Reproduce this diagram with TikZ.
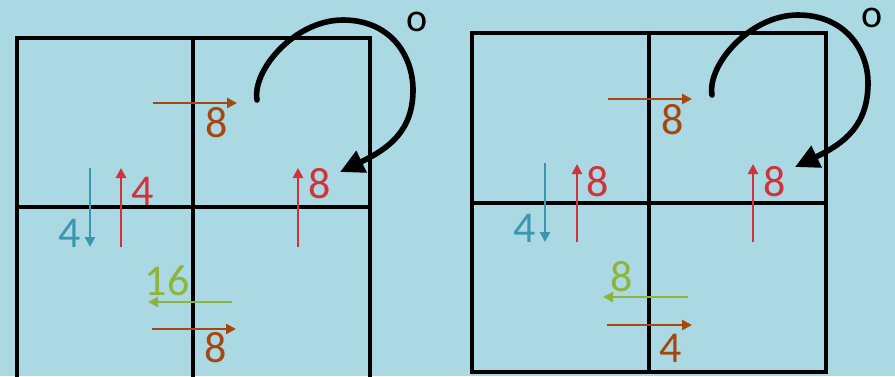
\documentclass[tikz,border=0pt]{standalone}
\usepackage{fontspec}
\setmainfont{Carlito}
\usetikzlibrary{arrows.meta}
\definecolor{bg}{RGB}{170,216,227}
\definecolor{cbrown}{RGB}{165,72,15}
\definecolor{cred}{RGB}{208,52,58}
\definecolor{cblue}{RGB}{58,152,174}
\definecolor{cgreen}{RGB}{141,181,60}
\tikzset{
  gridline/.style={line width=3.4pt,line cap=rect},
  flow/.style={line width=2.8pt,-{Triangle[length=10pt,width=10pt]}},
  lbl/.style={inner sep=0pt,font=\fontsize{44}{44}\selectfont},
  curvearrow/.style={line width=5.6pt,line cap=round,-{Triangle[length=24pt,width=23pt]}},
}
\begin{document}
\begin{tikzpicture}[x=1pt,y=-1pt]
\fill[bg] (0,0) rectangle (895,376);
\useasboundingbox (0,0) rectangle (895,376);
\clip (0,0) rectangle (895,376);
% ---------- left grid ----------
\draw[gridline] (17,382) -- (17,38) -- (370,38) -- (370,382);
\draw[gridline] (193,38) -- (193,382);
\draw[gridline] (17,207) -- (370,207);
% arrows
\coordinate (a1s) at (153,103); \coordinate (a1e) at (237,103);
\draw[flow,cbrown] (a1s) -- (a1e);
\node[lbl,cbrown] (l1) at (217,123) {8};
\coordinate (a2s) at (90,168); \coordinate (a2e) at (90,247);
\draw[flow,cblue] (a2s) -- (a2e);
\node[lbl,cblue] (l2) at (70,233) {4};
\coordinate (a3s) at (121,247); \coordinate (a3e) at (121,168);
\draw[flow,cred] (a3s) -- (a3e);
\node[lbl,cred] (l3) at (143,191) {4};
\coordinate (a4s) at (298,247); \coordinate (a4e) at (298,168);
\draw[flow,cred] (a4s) -- (a4e);
\node[lbl,cred] (l4) at (320,184) {8};
\coordinate (a5s) at (232,302); \coordinate (a5e) at (148,302);
\draw[flow,cgreen] (a5s) -- (a5e);
\node[lbl,cgreen] (l5) at (167,281) {16};
\coordinate (a6s) at (152,329); \coordinate (a6e) at (236,329);
\draw[flow,cbrown] (a6s) -- (a6e);
\node[lbl,cbrown] (l6) at (216,348) {8};
% curved
\coordinate (c1s) at (257,100); \coordinate (c1e) at (340,172);
\draw[curvearrow] (c1s) .. controls (252,70) and (295,20) .. (343,20)
   .. controls (390,20) and (413,55) .. (413,90)
   .. controls (413,130) and (390,148) .. (c1e);
\node[lbl,font=\fontsize{40}{40}\selectfont] (o1) at (417,22) {o};
% ---------- right grid ----------
\draw[gridline] (472,33) rectangle (826,372);
\draw[gridline] (649,33) -- (649,372);
\draw[gridline] (472,203) -- (826,203);
\coordinate (b1s) at (608,99); \coordinate (b1e) at (692,99);
\draw[flow,cbrown] (b1s) -- (b1e);
\node[lbl,cbrown] (m1) at (673,120) {8};
\coordinate (b2s) at (545,163); \coordinate (b2e) at (545,242);
\draw[flow,cblue] (b2s) -- (b2e);
\node[lbl,cblue] (m2) at (525,228) {4};
\coordinate (b3s) at (577,242); \coordinate (b3e) at (577,164);
\draw[flow,cred] (b3s) -- (b3e);
\node[lbl,cred] (m3) at (598,182) {8};
\coordinate (b4s) at (753,242); \coordinate (b4e) at (753,164);
\draw[flow,cred] (b4s) -- (b4e);
\node[lbl,cred] (m4) at (775,182) {8};
\coordinate (b5s) at (688,297); \coordinate (b5e) at (603,297);
\draw[flow,cgreen] (b5s) -- (b5e);
\node[lbl,cgreen] (m5) at (622,277) {8};
\coordinate (b6s) at (607,325); \coordinate (b6e) at (692,325);
\draw[flow,cbrown] (b6s) -- (b6e);
\node[lbl,cbrown] (m6) at (671,348) {4};
\coordinate (c2s) at (712,95); \coordinate (c2e) at (795,167);
\draw[curvearrow] (c2s) .. controls (707,65) and (750,15) .. (798,15)
   .. controls (845,15) and (868,50) .. (868,83)
   .. controls (868,125) and (845,143) .. (c2e);
\node[lbl,font=\fontsize{40}{40}\selectfont] (o2) at (872,18) {o};
\end{tikzpicture}
\end{document}
